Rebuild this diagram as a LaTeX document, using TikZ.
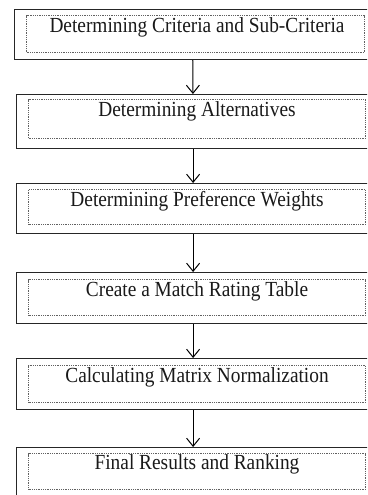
\documentclass[tikz,border=0pt]{standalone}
\usepackage{fontspec}
\setmainfont{Liberation Serif}
\usetikzlibrary{arrows.meta}
\newcommand\squeezetext[1]{\scalebox{0.9}[1]{#1}}
\begin{document}
\begin{tikzpicture}[x=1pt,y=-1pt,
  outerbox/.style={draw=black!85,line width=1.2pt,rectangle,inner sep=0pt,anchor=north west},
  innerbox/.style={draw=black!62,line width=1.2pt,dash pattern=on 0.9pt off 0.9pt,rectangle,inner sep=0pt,anchor=north west},
  steptext/.style={anchor=base,font=\fontsize{21.5}{24}\selectfont,inner sep=0pt,text=black!90},
  flow/.style={draw=black,line width=1pt,-{Straight Barb[length=8pt,width=13pt,line width=1pt]}}]
\clip (0,0) rectangle (367,495);
\useasboundingbox (0,0) rectangle (367,495);
% outer boxes
\node[outerbox,minimum width=356pt,minimum height=50pt] (o1) at (14,9) {};
\node[outerbox,minimum width=353pt,minimum height=54pt] (o2) at (16,94) {};
\node[outerbox,minimum width=353pt,minimum height=50pt] (o3) at (16,183) {};
\node[outerbox,minimum width=353pt,minimum height=51pt] (o4) at (16,272) {};
\node[outerbox,minimum width=353pt,minimum height=51pt] (o5) at (16,358) {};
\node[outerbox,minimum width=353pt,minimum height=56pt] (o6) at (16,447) {};
% inner dotted boxes
\node[innerbox,minimum width=338pt,minimum height=37pt] (i1) at (26,15) {};
\node[innerbox,minimum width=337pt,minimum height=39pt] (i2) at (28,99) {};
\node[innerbox,minimum width=337pt,minimum height=35pt] (i3) at (28,189) {};
\node[innerbox,minimum width=337pt,minimum height=36pt] (i4) at (28,279) {};
\node[innerbox,minimum width=337pt,minimum height=37pt] (i5) at (28,365) {};
\node[innerbox,minimum width=337pt,minimum height=36pt] (i6) at (28,453) {};
% texts
\node[steptext] (t1) at (197,33) {\squeezetext{Determining Criteria and Sub-Criteria}};
\node[steptext] (t2) at (197,116) {\squeezetext{Determining Alternatives}};
\node[steptext] (t3) at (197,206) {\squeezetext{Determining Preference Weights}};
\node[steptext] (t4) at (197,296) {\squeezetext{Create a Match Rating Table}};
\node[steptext] (t5) at (197,382) {\squeezetext{Calculating Matrix Normalization}};
\node[steptext] (t6) at (197,469) {\squeezetext{Final Results and Ranking}};
% arrows
\draw[flow] (o1) -- (o2);
\draw[flow] (o2) -- (o3);
\draw[flow] (o3) -- (o4);
\draw[flow] (o4) -- (o5);
\draw[flow] (o5) -- (o6);
\end{tikzpicture}
\end{document}
